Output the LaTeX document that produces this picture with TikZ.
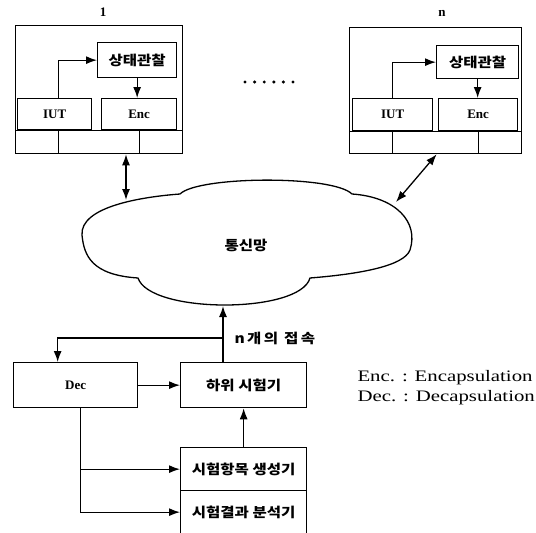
\documentclass[tikz,border=0pt]{standalone}
\usepackage{fontspec}
\setmainfont{Liberation Serif}
\newfontfamily\kr{Noto Sans CJK KR}[FakeStretch=1.15]
\newfontfamily\krwide{Noto Sans CJK KR}[FakeStretch=1.15, LetterSpace=18]
\newfontfamily\legendfont{Liberation Serif}[FakeStretch=1.3]
\usetikzlibrary{arrows.meta,positioning}

\tikzset{
  box/.style={draw, line width=1.3pt, rectangle, inner sep=0pt, anchor=north west},
  arr/.style={line width=1.3pt, -{Latex[length=11pt,width=8pt]}},
  twoway/.style={line width=1.3pt, {Latex[length=11pt,width=8pt]}-{Latex[length=11pt,width=8pt]}},
  krtext/.style={font=\kr\fontsize{13.5}{15}\selectfont\bfseries},
  smalltext/.style={font=\fontsize{13}{15}\selectfont\bfseries}
}

\begin{document}
\begin{tikzpicture}[x=1pt,y=-1pt]
    \useasboundingbox (0,0) rectangle (536,533);
    % station 1
    \node [box, minimum width=167pt, minimum height=128pt] (stA) at (15,25) {};
    \node [box, krtext, minimum width=79pt, minimum height=35pt] (obsA) at (97,42) {상태관찰};
    \node [box, smalltext, minimum width=74pt, minimum height=31pt] (iutA) at (17,98) {IUT};
    \node [box, smalltext, minimum width=75pt, minimum height=31pt] (encA) at (101,98) {Enc};
    \draw [line width=1.3pt] (stA.west |- iutA.south) -- (stA.east |- iutA.south);
    \draw [line width=1.3pt] ([xshift=4pt]iutA.south) -- ([xshift=4pt]iutA.south |- stA.south);
    \draw [line width=1.3pt] (encA.south) -- (encA.south |- stA.south);
    \draw [arr] ([xshift=4pt]iutA.north) |- (obsA.west);
    \draw [arr] (obsA.south) -- (obsA.south |- encA.north);
    \node [smalltext] (labA) at (103,12) {1};

    % station n
    \node [box, minimum width=172pt, minimum height=126pt] (stB) at (349,27) {};
    \node [box, krtext, minimum width=82pt, minimum height=33pt] (obsB) at (436,45) {상태관찰};
    \node [box, smalltext, minimum width=80pt, minimum height=32pt] (iutB) at (352,98) {IUT};
    \node [box, smalltext, minimum width=79pt, minimum height=32pt] (encB) at (438,98) {Enc};
    \draw [line width=1.3pt] (stB.west |- iutB.south) -- (stB.east |- iutB.south);
    \draw [line width=1.3pt] (iutB.south) -- (iutB.south |- stB.south);
    \draw [line width=1.3pt] (encB.south) -- (encB.south |- stB.south);
    \draw [arr] (iutB.north) |- (obsB.west);
    \draw [arr] (obsB.south) -- (obsB.south |- encB.north);
    \node [smalltext] (labB) at (442,13) {n};

    % dots between the stations
    \foreach \i in {0,...,5}
        \fill (245+\i*9.6,82) circle (1.7pt);

    % network cloud
    \draw [line width=1.3pt] (82,235) .. controls (80,207) and (140,197) .. (180,194)
        .. controls (198,176) and (333,175) .. (352,194)
        .. controls (396,197) and (419,222) .. (410,250)
        .. controls (404,266) and (360,274) .. (310,278)
        .. controls (300,314) and (150,314) .. (138,278)
        .. controls (92,275) and (84,256) .. (82,235);
    \node [krtext] (net) at (246,245) {통신망};
    \coordinate (netA) at (126,200);
    \coordinate (netB) at (396,202);
    \coordinate (netC) at (223,306);
    \draw [twoway] (netA |- stA.south) -- (netA);
    \draw [twoway] ([xshift=1pt]stB.south) -- (netB);

    % tester side
    \node [box, smalltext, minimum width=124pt, minimum height=45pt] (dec) at (13,362) {Dec};
    \node [box, krtext, minimum width=126pt, minimum height=45pt] (low) at (180,362) {하위 시험기};
    \node [box, krtext, minimum width=126pt, minimum height=43pt] (gen) at (180,447) {시험항목 생성기};
    \node [box, krtext, minimum width=126pt, minimum height=43pt] (ana) at (180,490) {시험결과 분석기};
    \coordinate (split) at (223,338);
    \draw [arr] (netC |- low.north) -- (netC);
    \draw [arr] (split) -| ([xshift=-18pt]dec.north);
    \node [font=\krwide\fontsize{13.5}{15}\selectfont\bfseries, anchor=west] (conn) at (231,338) {n개의 접속};
    \draw [arr] (dec.east) -- (low.west);
    \draw [arr] (gen.north) -- (gen.north |- low.south);
    \draw [arr] ([xshift=5pt]dec.south) |- (gen.west);
    \draw [arr] ([xshift=5pt]dec.south) |- (ana.west);

    % legend
    \node [anchor=west, font=\legendfont\fontsize{16}{20}\selectfont] (legE) at (354,378) {Enc. : Encapsulation};
    \node [anchor=west, font=\legendfont\fontsize{16}{20}\selectfont] (legD) at (354,398) {Dec. : Decapsulation};
\end{tikzpicture}
\end{document}
